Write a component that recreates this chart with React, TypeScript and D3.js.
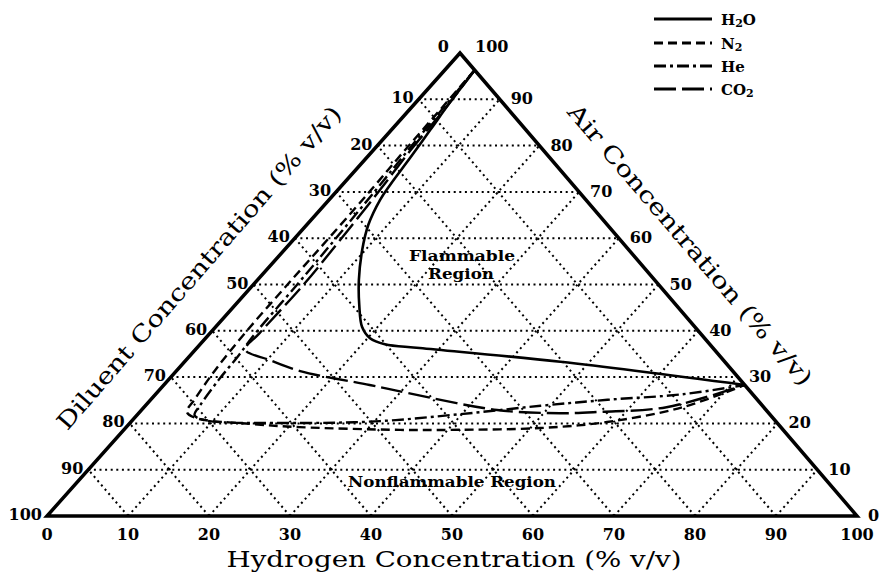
import React from "react";
import * as d3 from "d3";

// ---------- data (ternary: [hydrogen %, air %], diluent = 100 - H - A) ----------
const hydrogenTicks = [0, 10, 20, 30, 40, 50, 60, 70, 80, 90, 100];
const diluentTicks = [0, 10, 20, 30, 40, 50, 60, 70, 80, 90, 100];
const airTicks = [0, 10, 20, 30, 40, 50, 60, 70, 80, 90, 100];
const gridLevels = [10, 20, 30, 40, 50, 60, 70, 80, 90];

const h2o: [number, number][] = [
  [3.7, 96.3], [4.2, 89.4], [4.8, 83.4], [5.4, 77.3], [5.9, 71.5], [6.3, 68.3],
  [7.6, 62.9], [9.6, 57.5], [12.5, 51.0], [15.3, 45.6], [18.1, 40.8], [20.3, 38.4],
  [22.8, 37.1], [27.5, 36.3], [46.4, 33.3], [71.7, 28.3],
];
const n2: [number, number][] = [
  [3.7, 96.3], [3.8, 87.7], [3.9, 79.0], [4.1, 70.4], [4.2, 59.6], [4.2, 49.9],
  [4.3, 39.5], [4.7, 31.5], [5.4, 25.1], [5.8, 22.5], [7.5, 21.2], [14.9, 19.9],
  [21.4, 19.2], [34.1, 18.6], [40.3, 18.6], [51.2, 19.0], [58.8, 20.3], [66.5, 23.5],
  [71.7, 28.3],
];
const he: [number, number][] = [
  [3.7, 96.3], [4.0, 87.7], [4.3, 79.0], [4.7, 70.4], [5.1, 59.6], [5.4, 49.9],
  [5.6, 39.5], [6.0, 34.3], [6.2, 29.4], [6.7, 24.0], [7.1, 21.8], [8.9, 20.7],
  [21.0, 20.1], [30.7, 20.5], [39.8, 22.0], [48.8, 23.8], [56.4, 25.1], [65.1, 26.3],
  [71.7, 28.3],
];
const co2: [number, number][] = [
  [3.7, 96.3], [4.3, 87.7], [4.6, 79.0], [5.2, 70.4], [5.8, 59.6], [6.2, 49.9],
  [6.1, 39.5], [6.2, 35.9], [10.3, 33.7], [15.3, 31.3], [25.4, 28.3], [30.9, 26.6],
  [43.9, 22.9], [52.0, 22.2], [56.8, 22.5], [64.5, 23.5], [71.7, 28.3],
];

const seriesNames = ["H2O", "N2", "He", "CO2"];

// ---------- geometry ----------
const W = 881;
const HT = 573;
const x0 = 47, xR = 857, xT = 460, yB = 516, yT = 53;
const hScale = d3.scaleLinear().domain([0, 100]).range([0, xR - x0]);
const aShift = d3.scaleLinear().domain([0, 100]).range([0, xT - x0]);
const aY = d3.scaleLinear().domain([0, 100]).range([yB, yT]);
const pt = (h: number, a: number): [number, number] => [x0 + hScale(h) + aShift(a), aY(a)];

const FONT = "'DejaVu Serif', 'Liberation Serif', serif";

const styles = [
  { data: h2o, dash: "none", w: 2.6 },
  { data: n2, dash: "9,5", w: 2.4 },
  { data: he, dash: "12,4,3,4", w: 2.4 },
  { data: co2, dash: "22,6", w: 2.4 },
];

const lineGen = d3
  .line<[number, number]>()
  .x((d) => pt(d[0], d[1])[0])
  .y((d) => pt(d[0], d[1])[1])
  .curve(d3.curveCatmullRom.alpha(0.5));

function Sub({ base, sub, tail }: { base: string; sub: string; tail?: string }) {
  return (
    <>
      {base}
      <tspan fontSize={11} dy={2}>{sub}</tspan>
      {tail ? <tspan dy={-2}>{tail}</tspan> : null}
    </>
  );
}

export default function App() {
  const grid: [number, number, number, number][] = [];
  gridLevels.forEach((v) => {
    const a1 = pt(0, v), a2 = pt(100 - v, v);
    grid.push([a1[0], a1[1], a2[0], a2[1]]);
    const h1 = pt(v, 0), h2 = pt(v, 100 - v);
    grid.push([h1[0], h1[1], h2[0], h2[1]]);
    const d1 = pt(100 - v, 0), d2 = pt(0, 100 - v);
    grid.push([d1[0], d1[1], d2[0], d2[1]]);
  });

  const tri = [pt(0, 0), pt(100, 0), pt(0, 100)];
  const legendY = [19, 43, 66, 89];
  const legendLabels = [
    <Sub key="a" base="H" sub="2" tail="O" />,
    <Sub key="b" base="N" sub="2" />,
    <>He</>,
    <Sub key="d" base="CO" sub="2" />,
  ];

  return (
    <svg
      width={W}
      height={HT}
      style={{ position: "absolute", left: 0, top: 0, background: "#fff" }}
      fontFamily={FONT}
    >
      <rect x={0} y={0} width={W} height={HT} fill="#fff" />
      {/* dotted grid */}
      <g stroke="#000" strokeWidth={2} strokeDasharray="2,3.6" fill="none">
        {grid.map((g, i) => (
          <line key={i} x1={g[0]} y1={g[1]} x2={g[2]} y2={g[3]} />
        ))}
      </g>
      {/* curves */}
      <g fill="none" stroke="#000">
        {styles.map((s, i) => (
          <path
            key={i}
            d={lineGen(s.data) || ""}
            strokeWidth={s.w}
            strokeDasharray={s.dash}
            strokeLinejoin="round"
          />
        ))}
      </g>
      {/* triangle */}
      <polygon
        points={tri.map((p) => p.join(",")).join(" ")}
        fill="none"
        stroke="#000"
        strokeWidth={3.5}
        strokeLinejoin="miter"
      />
      {/* ticks */}
      <g fontSize={16} fontWeight="bold" fill="#000">
        {hydrogenTicks.map((h) => (
          <text key={"h" + h} x={pt(h, 0)[0]} y={540} textAnchor="middle">
            {h}
          </text>
        ))}
        {diluentTicks.map((d) => {
          const p = pt(0, 100 - d);
          const x = d === 0 ? p[0] - 11 : p[0] - 5;
          const y = d === 0 ? p[1] - 1 : p[1] + 4;
          return (
            <text key={"d" + d} x={x} y={y} textAnchor="end">
              {d}
            </text>
          );
        })}
        {airTicks.map((a) => {
          const p = pt(100 - a, a);
          const x = a === 100 ? p[0] + 15 : p[0] + 11;
          const y = a === 100 ? p[1] - 1 : p[1] + 5;
          return (
            <text key={"a" + a} x={x} y={y} textAnchor="start">
              {a}
            </text>
          );
        })}
      </g>
      {/* region labels */}
      <g fontSize={15} fontWeight="bold" textAnchor="middle">
        <text x={462} y={261} textLength={106} lengthAdjust="spacingAndGlyphs">Flammable</text>
        <text x={461} y={279} textLength={66} lengthAdjust="spacingAndGlyphs">Region</text>
        <text x={452} y={487} textLength={208} lengthAdjust="spacingAndGlyphs">Nonflammable Region</text>
      </g>
      {/* axis titles */}
      <g fontSize={23} fill="#000">
        <text x={454} y={567} textAnchor="middle" textLength={455} lengthAdjust="spacingAndGlyphs">
          Hydrogen Concentration (% v/v)
        </text>
        <text
          transform="translate(205,273) rotate(-49)"
          textAnchor="middle"
          textLength={420}
          lengthAdjust="spacingAndGlyphs"
        >
          Diluent Concentration (% v/v)
        </text>
        <text
          transform="translate(684,250) rotate(49.4)"
          textAnchor="middle"
          textLength={362}
          lengthAdjust="spacingAndGlyphs"
        >
          Air Concentration (% v/v)
        </text>
      </g>
      {/* legend */}
      <g>
        {seriesNames.map((n, i) => (
          <g key={n}>
            <line
              x1={654}
              x2={712}
              y1={legendY[i]}
              y2={legendY[i]}
              stroke="#000"
              strokeWidth={2.8}
              strokeDasharray={styles[i].dash}
            />
            <text x={721} y={legendY[i] + 6} fontSize={15} fontWeight="bold">
              {legendLabels[i]}
            </text>
          </g>
        ))}
      </g>
    </svg>
  );
}
